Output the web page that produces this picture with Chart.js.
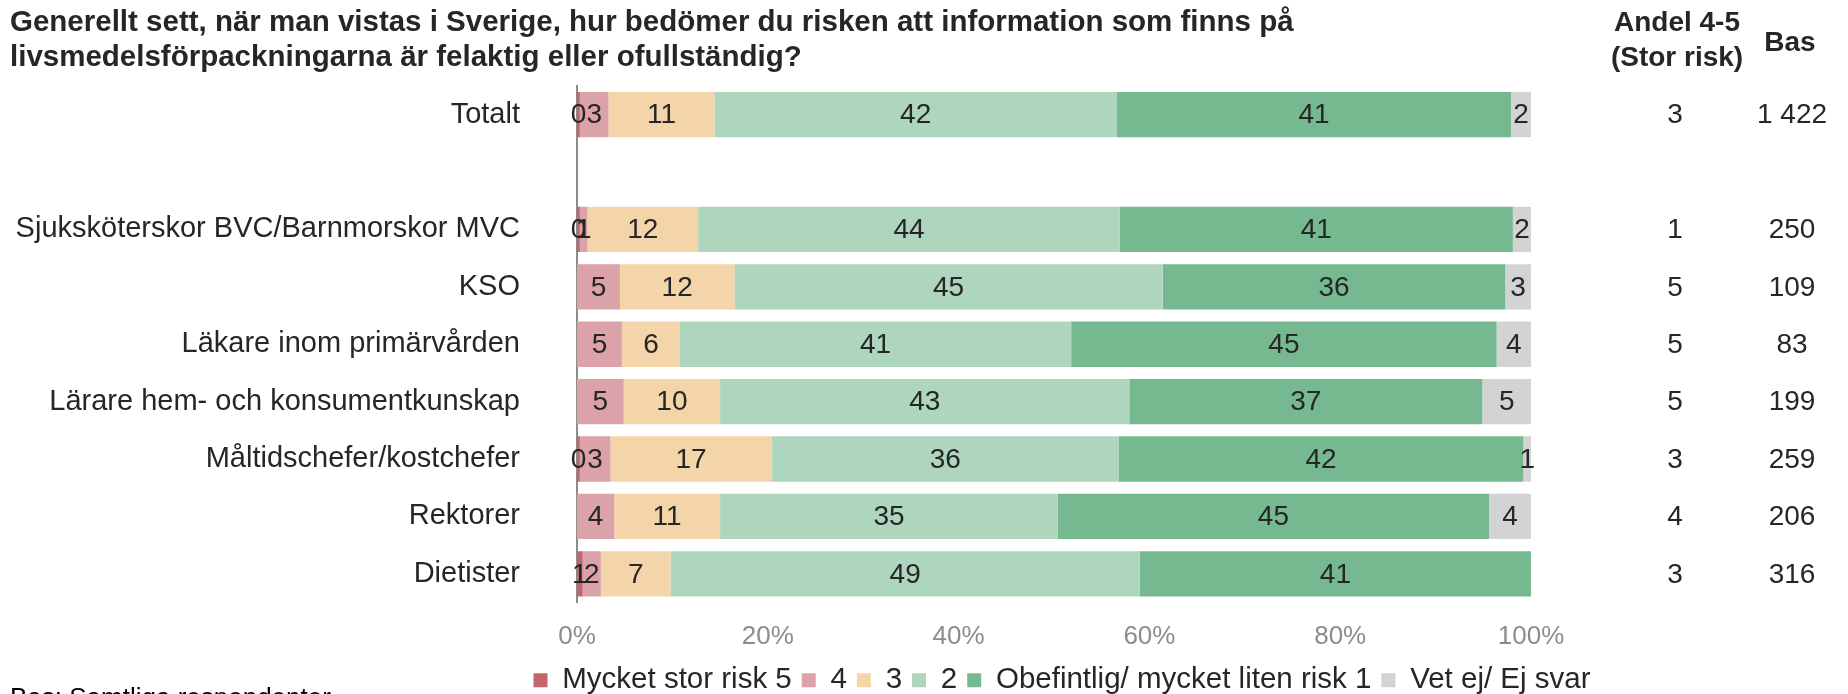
<!DOCTYPE html>
<html lang="sv">
<head>
    <meta charset="UTF-8">
    <title>Risk för felaktig information på livsmedelsförpackningar</title>
    <script src="https://cdn.jsdelivr.net/npm/chart.js@4.4.1/dist/chart.umd.min.js"></script>
    <style>
        html, body { margin: 0; padding: 0; background: #fff; overflow: hidden; }
        #chart-container { width: 1848px; height: 705px; }
    </style>
</head>
<body>
    <div id="chart-container">
        <canvas id="myChart" width="1848" height="705"></canvas>
    </div>

    <script>
        // Kategorier (tom rad mellan Totalt och grupperna)
        const categories = ['Totalt', '', 'Sjuksköterskor BVC/Barnmorskor MVC', 'KSO', 'Läkare inom primärvården',
            'Lärare hem- och konsumentkunskap', 'Måltidschefer/kostchefer', 'Rektorer', 'Dietister'];

        // Andel i procent per svarsalternativ
        const risk5 = [0.3, null, 0.3, 0, 0, 0, 0.3, 0, 0.6];
        const risk4 = [3.0, null, 0.8, 4.5, 4.7, 4.9, 3.2, 3.9, 1.9];
        const risk3 = [11.1, null, 11.6, 12.0, 6.1, 10.1, 16.9, 11.1, 7.3];
        const risk2 = [42.2, null, 44.2, 44.9, 41.0, 42.9, 36.4, 35.4, 49.2];
        const risk1 = [41.3, null, 41.2, 35.9, 44.6, 37.0, 42.4, 45.2, 41.0];
        const vetEj = [2.1, null, 1.9, 2.7, 3.6, 5.1, 0.8, 4.4, 0];

        // Kolumner till höger
        const andelStorRisk = [3, null, 1, 5, 5, 5, 3, 4, 3];
        const bas = [1422, null, 250, 109, 83, 199, 259, 206, 316];

        const xTicks = [0, 20, 40, 60, 80, 100];

        const FONT = '"Liberation Sans", Arial, sans-serif';
        const TEXT = '#262626';

        function formatBas(n) {
            return String(n).replace(/\B(?=(\d{3})+(?!\d))/g, ' ');
        }

        // Värdeetiketter i staplarna + kolumnerna till höger
        const extraText = {
            id: 'extraText',
            afterLayout(chart) {
                // centrera förklaringen under själva stapelytan
                const lg = chart.legend;
                const area = chart.chartArea;
                const d = (area.left + area.right) / 2 + 13 - (lg.left + 10 + lg.right) / 2;
                lg.left += d;
                lg.right += d;
            },
            afterDatasetsDraw(chart) {
                const ctx = chart.ctx;
                ctx.save();
                ctx.font = '28px ' + FONT;
                ctx.fillStyle = TEXT;
                ctx.textAlign = 'center';
                ctx.textBaseline = 'middle';
                chart.data.datasets.forEach((ds, i) => {
                    const meta = chart.getDatasetMeta(i);
                    meta.data.forEach((bar, j) => {
                        const v = ds.data[j];
                        if (!v) return;
                        const p = bar.getProps(['x', 'base', 'y'], true);
                        ctx.fillText(Math.round(v), (p.x + p.base) / 2, p.y + 1);
                    });
                });

                const yScale = chart.scales.y;
                categories.forEach((c, j) => {
                    const y = yScale.getPixelForValue(j) + 1;
                    if (andelStorRisk[j] != null) ctx.fillText(andelStorRisk[j], 1675, y);
                    if (bas[j] != null) ctx.fillText(formatBas(bas[j]), 1792, y);
                });

                ctx.font = 'bold 28px ' + FONT;
                ctx.fillText('Andel 4-5', 1677, 23);
                ctx.fillText('(Stor risk)', 1677, 58);
                ctx.fillText('Bas', 1790, 43);

                ctx.font = '26px ' + FONT;
                ctx.fillStyle = '#000';
                ctx.textAlign = 'left';
                ctx.textBaseline = 'alphabetic';
                ctx.fillText('Bas: Samtliga respondenter', 10, 706);
                ctx.restore();
            }
        };

        const ctx = document.getElementById('myChart').getContext('2d');
        const myChart = new Chart(ctx, {
            type: 'bar',
            data: {
                labels: categories,
                datasets: [
                    { label: 'Mycket stor risk 5', data: risk5, backgroundColor: '#C4646D' },
                    { label: '4', data: risk4, backgroundColor: '#DBA2A9' },
                    { label: '3', data: risk3, backgroundColor: '#F4D5A9' },
                    { label: '2', data: risk2, backgroundColor: '#AED5BD' },
                    { label: 'Obefintlig/ mycket liten risk 1', data: risk1, backgroundColor: '#76B991' },
                    { label: 'Vet ej/ Ej svar', data: vetEj, backgroundColor: '#D3D3D3' }
                ]
            },
            options: {
                indexAxis: 'y',
                responsive: false,
                animation: false,
                datasets: {
                    bar: { categoryPercentage: 1, barPercentage: 0.79, borderWidth: 0 }
                },
                layout: { padding: { left: 10, right: 317, top: 0, bottom: 0 } },
                scales: {
                    x: {
                        stacked: true,
                        min: 0,
                        max: 100,
                        afterBuildTicks(scale) {
                            scale.ticks = xTicks.map(v => ({ value: v }));
                        },
                        afterFit(scale) {
                            scale.height = 53;
                        },
                        ticks: {
                            callback: v => v + '%',
                            color: '#8C8C8C',
                            font: { family: FONT, size: 26 },
                            padding: 19,
                            maxRotation: 0
                        },
                        grid: { display: false, drawTicks: false },
                        border: { display: false }
                    },
                    y: {
                        stacked: true,
                        afterFit(scale) {
                            scale.width = 567;
                        },
                        ticks: {
                            color: TEXT,
                            font: { family: FONT, size: 29 },
                            padding: 57
                        },
                        grid: { display: false, drawTicks: false },
                        border: { color: '#8C8C8C', width: 2 }
                    }
                },
                plugins: {
                    tooltip: { enabled: false },
                    title: {
                        display: true,
                        align: 'start',
                        text: ['Generellt sett, när man vistas i Sverige, hur bedömer du risken att information som finns på',
                            'livsmedelsförpackningarna är felaktig eller ofullständig?'],
                        color: TEXT,
                        font: { family: FONT, size: 29.5, weight: 'bold', lineHeight: 1.186 },
                        padding: { top: 5, bottom: 11 }
                    },
                    legend: {
                        position: 'bottom',
                        labels: {
                            boxWidth: 14,
                            boxHeight: 14,
                            padding: 10,
                            color: TEXT,
                            font: { family: FONT, size: 29.5 }
                        }
                    }
                }
            },
            plugins: [extraText]
        });
    </script>
</body>
</html>
